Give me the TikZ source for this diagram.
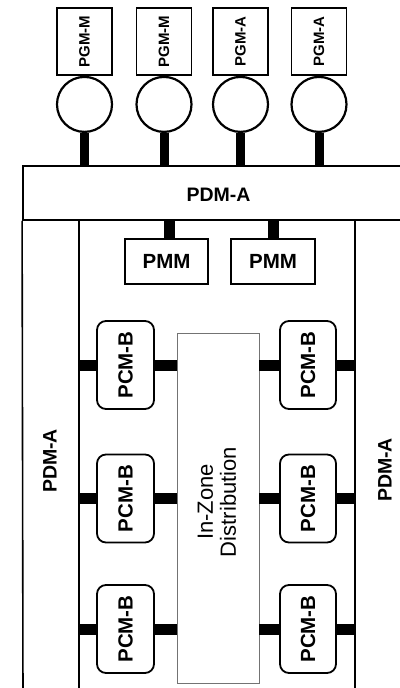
\documentclass[tikz,border=0pt]{standalone}
\usepackage{fontspec}
\usepackage{graphicx}
\setmainfont{Liberation Sans}
\begin{document}
\begin{tikzpicture}[x=1pt,y=-1pt,
  box/.style={draw, line width=1.6pt, fill=white, inner sep=0pt},
  pgm/.style={box, minimum width=55pt, minimum height=67pt, font=\fontsize{15}{17}\selectfont\bfseries},
  gen/.style={draw, circle, line width=2.2pt, fill=white, minimum size=55pt, inner sep=0pt},
  pmm/.style={box, minimum width=83pt, minimum height=45pt, font=\fontsize{20.5}{22}\selectfont\bfseries},
  pcm/.style={box, rounded corners=9pt, line width=1.8pt, minimum width=57pt, minimum height=88pt, font=\fontsize{20.5}{22}\selectfont\bfseries},
  lbl/.style={font=\fontsize{19.5}{21}\selectfont\bfseries, inner sep=0pt},
  frame/.style={line width=1.6pt},
  bus/.style={line width=10pt, line cap=butt},
  hbus/.style={line width=11pt, line cap=butt},
]
\useasboundingbox (0,0) rectangle (399,688);

% top distribution module
\node[box, line width=1.8pt, minimum width=397pt, minimum height=54pt] (pdm) at (221.5,193) {};
\node[lbl] (pdmlbl) at (218.5,195) {PDM-A};

% frame lines
\coordinate (fl) at (23,700);
\coordinate (il) at (79,220);
\coordinate (ilb) at (79,700);
\coordinate (ir) at (355,220);
\coordinate (irb) at (355,700);
\draw[frame] (pdm.south west) -- (fl);
\draw[frame] (il) -- (ilb);
\draw[frame] (ir) -- (irb);

% side labels
\node[lbl, rotate=90] (sideL) at (50,461) {PDM-A};
\node[lbl, rotate=90] (sideR) at (385,470) {PDM-A};

% generators
\node[pgm] (g1) at (84.5,41.5) {\rotatebox{90}{PGM-M}};
\node[pgm] (g2) at (164,41.5) {\rotatebox{90}{PGM-M}};
\node[pgm] (g3) at (240.5,41.5) {\rotatebox{90}{PGM-A}};
\node[pgm] (g4) at (319,41.5) {\rotatebox{90}{PGM-A}};
\node[gen, anchor=north] (c1) at (g1.south) {};
\node[gen, anchor=north] (c2) at (g2.south) {};
\node[gen, anchor=north] (c3) at (g3.south) {};
\node[gen, anchor=north] (c4) at (g4.south) {};
\foreach \c in {c1,c2,c3,c4}
  \draw[bus, line width=9pt] (\c.south) -- (\c.south |- pdm.north);

% PMM
\node[pmm] (m1) at (166.5,261.5) {PMM};
\node[pmm, minimum width=84pt] (m2) at (273,261.5) {PMM};
\draw[hbus] ([xshift=3pt]m1.north) -- ([xshift=3pt]m1.north |- pdm.south);
\draw[hbus] (m2.north) -- (m2.north |- pdm.south);

% in-zone distribution
\node[draw=black!55, line width=0.9pt, fill=white, minimum width=82pt, minimum height=350pt, inner sep=0pt] (iz) at (218,508) {};
\node[font=\fontsize{22}{23}\selectfont, rotate=90, align=center, inner sep=0pt] (izl) at (217,502) {In-Zone\\Distribution};

% PCM-B modules
\node[pcm] (a1) at (125.5,365) {\rotatebox{90}{PCM-B}};
\node[pcm] (a2) at (125.5,498.5) {\rotatebox{90}{PCM-B}};
\node[pcm] (a3) at (125.5,629) {\rotatebox{90}{PCM-B}};
\node[pcm, minimum width=56pt] (b1) at (308,365) {\rotatebox{90}{PCM-B}};
\node[pcm, minimum width=56pt] (b2) at (308,498.5) {\rotatebox{90}{PCM-B}};
\node[pcm, minimum width=56pt] (b3) at (308,629) {\rotatebox{90}{PCM-B}};

\foreach \p in {a1,a2,a3}{
  \draw[hbus] (\p.west) -- (\p.west -| il);
  \draw[hbus] (\p.east) -- (\p.east -| iz.west);
}
\foreach \p in {b1,b2,b3}{
  \draw[hbus] (\p.west) -- (\p.west -| iz.east);
  \draw[hbus] (\p.east) -- (\p.east -| ir);
}
\end{tikzpicture}
\end{document}
